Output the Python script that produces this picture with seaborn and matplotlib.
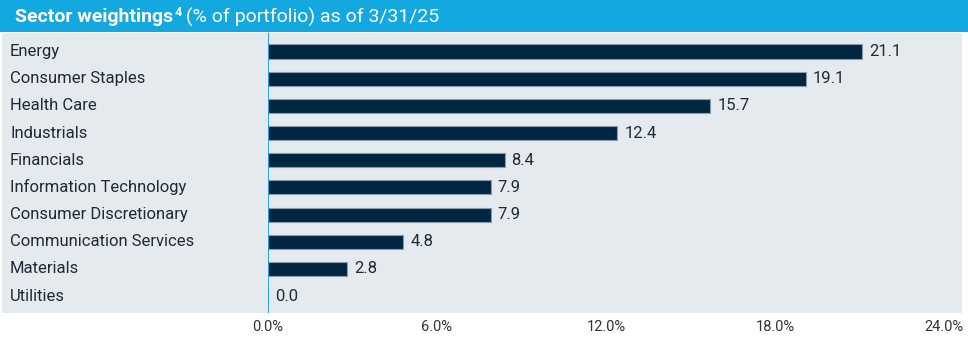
import matplotlib
matplotlib.use("Agg")
import matplotlib.pyplot as plt
import matplotlib.transforms as mtransforms
from matplotlib.patches import Rectangle
import seaborn as sns
import pandas as pd
from matplotlib import font_manager

sectors = ["Energy", "Consumer Staples", "Health Care", "Industrials", "Financials",
           "Information Technology", "Consumer Discretionary", "Communication Services",
           "Materials", "Utilities"]
weights = [21.1, 19.1, 15.7, 12.4, 8.4, 7.9, 7.9, 4.8, 2.8, 0.0]
xticks = [0, 6, 12, 18, 24]
xtick_labels = ["0.0%", "6.0%", "12.0%", "18.0%", "24.0%"]
title_bold = "Sector weightings"
title_sup = "4"
title_rest = " (% of portfolio) as of 3/31/25"

sns.set_theme(style="white")
names = {f.name for f in font_manager.fontManager.ttflist}
fam = "Liberation Sans Narrow" if "Liberation Sans Narrow" in names else "Roboto"
plt.rcParams["font.family"] = [fam, "DejaVu Sans"]

W, H = 968, 338
fig = plt.figure(figsize=(W / 100, H / 100), dpi=100)
fig.patch.set_facecolor("white")

# header band
fig.add_artist(Rectangle((0, 1 - 32 / H), 1, 32 / H, transform=fig.transFigure,
                         facecolor="#14a8e0", edgecolor="none", zorder=0))
# gray panel
fig.add_artist(Rectangle((2 / W, 1 - 313 / H), 960 / W, 280 / H, transform=fig.transFigure,
                         facecolor="#e5eaef", edgecolor="none", zorder=0))

ax = fig.add_axes([268 / W, 1 - 313 / H, (944 - 268) / W, 280 / H])
ax.patch.set_alpha(0)
df = pd.DataFrame({"sector": sectors, "weight": weights})
sns.barplot(data=df, x="weight", y="sector", orient="h", color="#002641",
            width=0.52, edgecolor="#8a9bab", linewidth=0.8, saturation=1, ax=ax)
ax.set_xlim(0, 24)
ax.set_ylim(len(sectors) - 0.5 + 0.12, -0.5 - 0.18)
for s in ax.spines.values():
    s.set_visible(False)
ax.axvline(0, color="#1a9ee0", lw=1.3, zorder=5)
ax.set_xlabel("")
ax.set_ylabel("")
ax.set_yticks([])
ax.set_xticks(xticks)
ax.set_xticklabels(xtick_labels, fontsize=10.5, color="#333333")
ax.tick_params(axis="x", length=0, pad=5)

tr = mtransforms.blended_transform_factory(fig.transFigure, ax.transData)
for i, (s, v) in enumerate(zip(sectors, weights)):
    ax.text(10 / W, i, s, transform=tr, ha="left", va="center", fontsize=12,
            color="#1f2a36")
    ax.text(v, i, f"{v:.1f}", ha="left", va="center", fontsize=12, color="#1f2a36",
            transform=ax.transData + mtransforms.ScaledTranslation(7 / 100, 0, fig.dpi_scale_trans))

# title
t1 = fig.text(15 / W, 1 - 17 / H, title_bold, fontsize=14, fontweight="bold",
              color="white", va="center", ha="left")
fig.canvas.draw()
bb = t1.get_window_extent()
t2 = fig.text(bb.x1 / W + 1 / W, 1 - 12 / H, title_sup, fontsize=9, fontweight="bold",
              color="white", va="center", ha="left")
fig.canvas.draw()
bb2 = t2.get_window_extent()
fig.text(bb2.x1 / W, 1 - 17 / H, title_rest, fontsize=14, color="white",
         va="center", ha="left")

fig.savefig("out.png", dpi=100)
